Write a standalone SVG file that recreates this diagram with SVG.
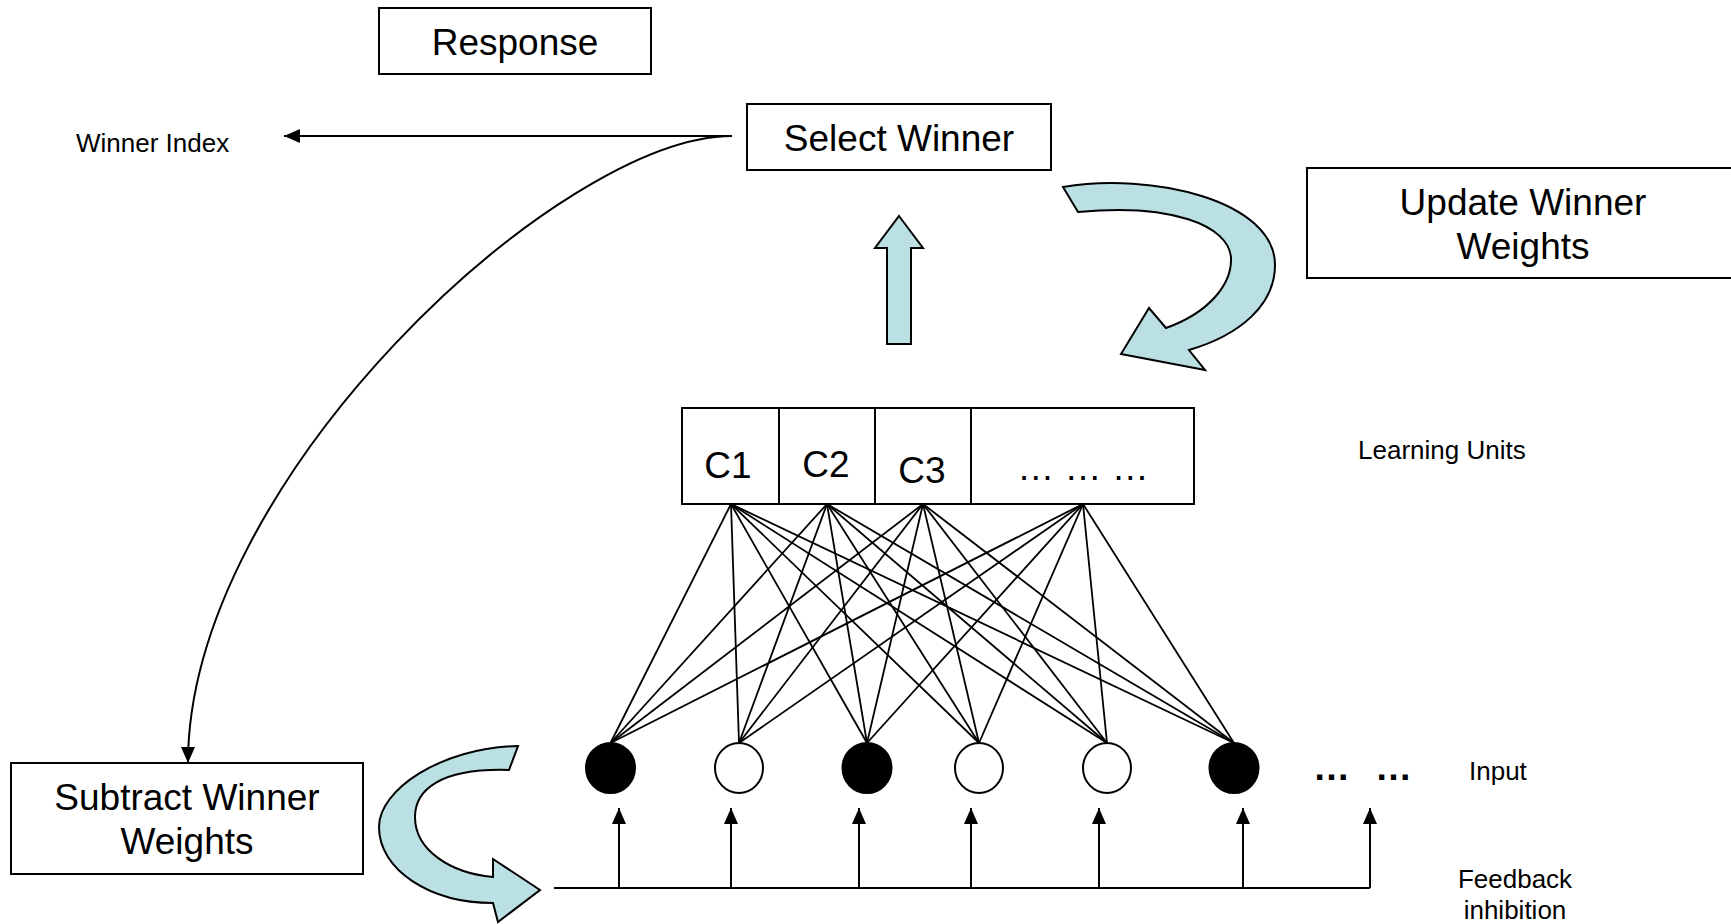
<svg xmlns="http://www.w3.org/2000/svg" width="1731" height="924" viewBox="0 0 1731 924">
<defs>
<style>
.box{fill:#fff;stroke:#000;stroke-width:2}
.big{font-family:"Liberation Sans",Arial,sans-serif;font-size:37px;fill:#000;text-anchor:middle}
.small{font-family:"Liberation Sans",Arial,sans-serif;font-size:26px;fill:#000}
.blk{fill:#BBE0E3;stroke:#000;stroke-width:2;stroke-linejoin:miter}
.ln{stroke:#000;stroke-width:2;fill:none}
.w{stroke:#000;stroke-width:1.8;fill:none}
</style>
<marker id="ah" viewBox="0 0 16 14" refX="16" refY="7" markerWidth="16" markerHeight="14" markerUnits="userSpaceOnUse" orient="auto">
<path d="M0,0 L16,7 L0,14 Z" fill="#000"/>
</marker>
</defs>
<rect width="1731" height="924" fill="#fff"/>

<g id="response">
<rect class="box" x="379" y="8" width="272" height="66"/>
<text class="big" x="515" y="55">Response</text>
</g>

<g id="select-winner">
<rect class="box" x="747" y="104" width="304" height="66"/>
<text class="big" x="899" y="151">Select Winner</text>
</g>

<g id="winner-index">
<text class="small" x="76" y="152">Winner Index</text>
</g>

<g id="update-winner-weights">
<rect class="box" x="1307" y="168" width="440" height="110"/>
<text class="big" x="1523" y="215">Update Winner</text>
<text class="big" x="1523" y="259">Weights</text>
</g>

<g id="subtract-winner-weights">
<rect class="box" x="11" y="763" width="352" height="111"/>
<text class="big" x="187" y="810">Subtract Winner</text>
<text class="big" x="187" y="854">Weights</text>
</g>

<g id="learning-units">
<rect class="box" x="682" y="408" width="512" height="96"/>
<line class="ln" x1="779" y1="408" x2="779" y2="504"/>
<line class="ln" x1="875" y1="408" x2="875" y2="504"/>
<line class="ln" x1="971" y1="408" x2="971" y2="504"/>
<text class="big" x="728" y="478">C1</text>
<text class="big" x="826" y="477">C2</text>
<text class="big" x="922" y="483">C3</text>
<text class="big" x="1083" y="480">… … …</text>
</g>
<g id="learning-units-label"><text class="small" x="1358" y="459">Learning Units</text></g>

<g id="inputs">
<ellipse cx="610.5" cy="768" rx="24.5" ry="25" fill="#000" stroke="#000" stroke-width="2"/>
<ellipse cx="739" cy="768" rx="24" ry="25" fill="#fff" stroke="#000" stroke-width="2"/>
<ellipse cx="867" cy="768" rx="24.5" ry="25" fill="#000" stroke="#000" stroke-width="2"/>
<ellipse cx="979" cy="768" rx="24" ry="25" fill="#fff" stroke="#000" stroke-width="2"/>
<ellipse cx="1107" cy="768" rx="24" ry="25" fill="#fff" stroke="#000" stroke-width="2"/>
<ellipse cx="1234" cy="768" rx="24.5" ry="25" fill="#000" stroke="#000" stroke-width="2"/>
<text class="big" x="1313" y="780" style="text-anchor:start;font-weight:bold">…</text>
<text class="big" x="1375" y="780" style="text-anchor:start;font-weight:bold">…</text>
</g>
<g id="input-label"><text class="small" x="1469" y="780">Input</text></g>
<g id="feedback-label">
<text class="small" x="1515" y="888" style="text-anchor:middle">Feedback</text>
<text class="small" x="1515" y="919" style="text-anchor:middle">inhibition</text>
</g>

<g id="block-arrows">
<path class="blk" d="M899,216 L923,248 L911,248 L911,344 L887,344 L887,248 L875,248 Z"/>
<path class="blk" d="M1063,187 C1150,172 1275,200 1275,265 C1275,305 1240,335 1189,350 L1205,370 L1121,354 L1149,308 L1166,328 C1208,313 1232,285 1231,258 C1229,225 1170,203 1078,212 Z"/>
<path class="blk" d="M518,746 C440,748 379,790 379,827 C379,870 430,903 493,903 L498,922 L540,890 L493,859 L493,877 C450,873 415,850 415,817 C415,790 440,768 509,770 Z"/>
</g>

<g id="connectors">
<line class="ln" x1="732" y1="136" x2="284" y2="136" marker-end="url(#ah)"/>
<path class="ln" d="M732,136 C560,136 188,480 188,763" marker-end="url(#ah)"/>
<line class="ln" x1="554" y1="888" x2="1370" y2="888"/>
<line class="ln" x1="619" y1="888" x2="619" y2="808" marker-end="url(#ah)"/>
<line class="ln" x1="731" y1="888" x2="731" y2="808" marker-end="url(#ah)"/>
<line class="ln" x1="859" y1="888" x2="859" y2="808" marker-end="url(#ah)"/>
<line class="ln" x1="971" y1="888" x2="971" y2="808" marker-end="url(#ah)"/>
<line class="ln" x1="1099" y1="888" x2="1099" y2="808" marker-end="url(#ah)"/>
<line class="ln" x1="1243" y1="888" x2="1243" y2="808" marker-end="url(#ah)"/>
<line class="ln" x1="1370" y1="888" x2="1370" y2="808" marker-end="url(#ah)"/>
<g class="w">
<line x1="731" y1="504" x2="610.5" y2="743"/><line x1="731" y1="504" x2="739" y2="743"/><line x1="731" y1="504" x2="867" y2="743"/><line x1="731" y1="504" x2="979" y2="743"/><line x1="731" y1="504" x2="1107" y2="743"/><line x1="731" y1="504" x2="1234" y2="743"/>
<line x1="827" y1="504" x2="610.5" y2="743"/><line x1="827" y1="504" x2="739" y2="743"/><line x1="827" y1="504" x2="867" y2="743"/><line x1="827" y1="504" x2="979" y2="743"/><line x1="827" y1="504" x2="1107" y2="743"/><line x1="827" y1="504" x2="1234" y2="743"/>
<line x1="923" y1="504" x2="610.5" y2="743"/><line x1="923" y1="504" x2="739" y2="743"/><line x1="923" y1="504" x2="867" y2="743"/><line x1="923" y1="504" x2="979" y2="743"/><line x1="923" y1="504" x2="1107" y2="743"/><line x1="923" y1="504" x2="1234" y2="743"/>
<line x1="1083" y1="504" x2="610.5" y2="743"/><line x1="1083" y1="504" x2="739" y2="743"/><line x1="1083" y1="504" x2="867" y2="743"/><line x1="1083" y1="504" x2="979" y2="743"/><line x1="1083" y1="504" x2="1107" y2="743"/><line x1="1083" y1="504" x2="1234" y2="743"/>
</g>
</g>
</svg>
